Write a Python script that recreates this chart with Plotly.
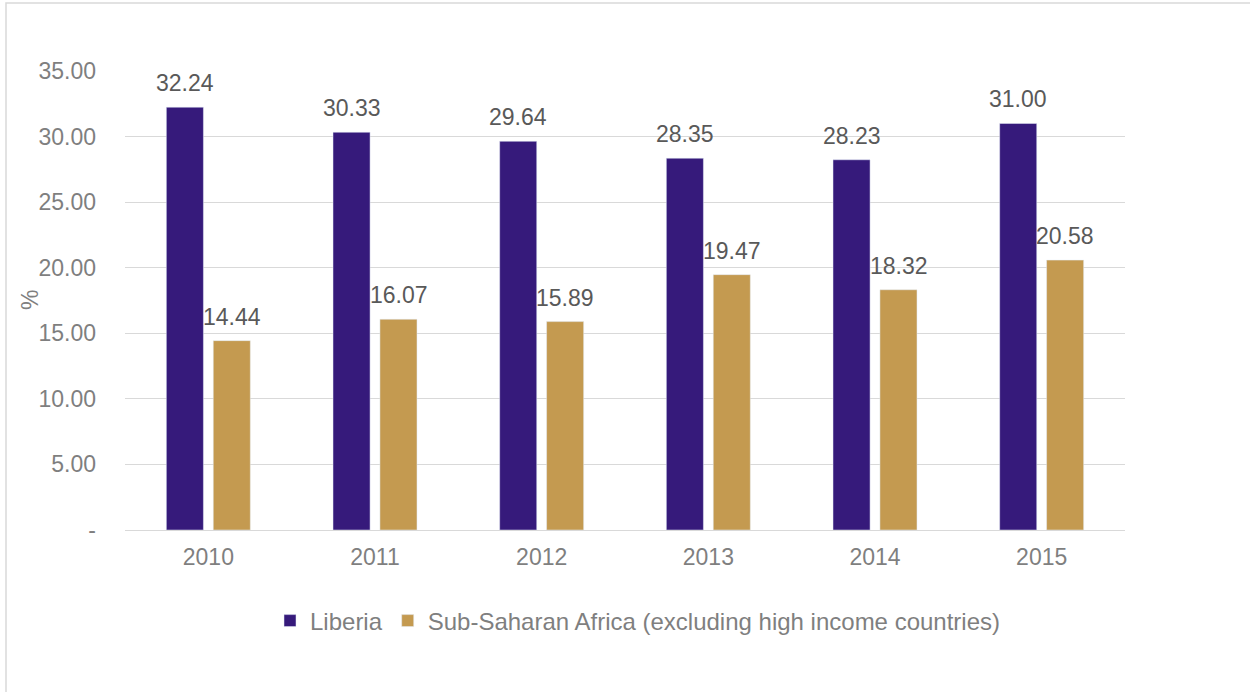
import plotly.graph_objects as go

# Share of GDP, in percent
years = ["2010", "2011", "2012", "2013", "2014", "2015"]
liberia = [32.24, 30.33, 29.64, 28.35, 28.23, 31.00]
ssa = [14.44, 16.07, 15.89, 19.47, 18.32, 20.58]

y_ticks = [0, 5, 10, 15, 20, 25, 30, 35]
y_tick_labels = ["-", "5.00", "10.00", "15.00", "20.00", "25.00", "30.00", "35.00"]

PURPLE = "#361A7B"
GOLD = "#C49A50"
FONT = "Liberation Sans, Arial, sans-serif"
FS = 23

fig = go.Figure()
fig.add_trace(go.Bar(name="Liberia", x=years, y=liberia, marker_color=PURPLE))
fig.add_trace(go.Bar(
    name="Sub-Saharan Africa (excluding high income countries)", x=years, y=ssa,
    marker_color=GOLD,
))

L, R, T, B = 125, 125, 71, 162
W, H = 1250, 692
pw, ph = W - L - R, H - T - B

# value labels above each bar (category axis: position = category index)
annotations = []
for series, shift in ((liberia, -23.5), (ssa, 23.5)):
    for i, v in enumerate(series):
        annotations.append(dict(
            x=i, y=v, xref="x", yref="y", text=f"{v:.2f}", showarrow=False,
            xshift=shift, yshift=24, yanchor="middle", xanchor="center",
            font=dict(size=FS, color="#595959", family=FONT),
        ))

# y-axis title
annotations.append(dict(
    x=(30 - L) / pw, y=(H - B - 300) / ph, xref="paper", yref="paper",
    text="%", textangle=-90, showarrow=False, xanchor="center", yanchor="middle",
    font=dict(size=FS, color="#7f7f7f", family=FONT),
))

fig.update_layout(
    width=W, height=H,
    margin=dict(l=L, r=R, t=T, b=B, autoexpand=False),
    paper_bgcolor="white", plot_bgcolor="white",
    font=dict(family=FONT, size=FS, color="#7f7f7f"),
    barmode="group", bargap=0.437, bargroupgap=0.21,
    showlegend=True,
    legend=dict(
        orientation="h", x=(638 - L) / pw, xanchor="center",
        y=(H - B - 621) / ph, yanchor="middle",
        font=dict(size=24, color="#7f7f7f"),
        itemwidth=30,
    ),
    annotations=annotations,
    xaxis=dict(type="category", range=[-0.5, len(years) - 0.5],
               showgrid=False, showline=False, ticks="", automargin=False,
               ticklabelstandoff=11, tickfont=dict(size=FS, color="#7f7f7f")),
    yaxis=dict(
        range=[0, 35], tickvals=y_ticks, ticktext=y_tick_labels,
        showgrid=True, gridcolor="#d9d9d9", gridwidth=1,
        zeroline=True, zerolinecolor="#d9d9d9", zerolinewidth=1,
        showline=False, ticks="", ticklabelstandoff=28, automargin=False,
        tickfont=dict(size=FS, color="#7f7f7f"),
    ),
    shapes=[dict(
        type="rect", xref="paper", yref="paper",
        x0=(6 - L) / pw, x1=(W + 5 - L) / pw,
        y0=(H - B - (H + 5)) / ph, y1=(H - B - 3) / ph,
        line=dict(color="#d9d9d9", width=1.5), fillcolor="rgba(0,0,0,0)", layer="below",
    )],
)

fig.write_html("out.html")
